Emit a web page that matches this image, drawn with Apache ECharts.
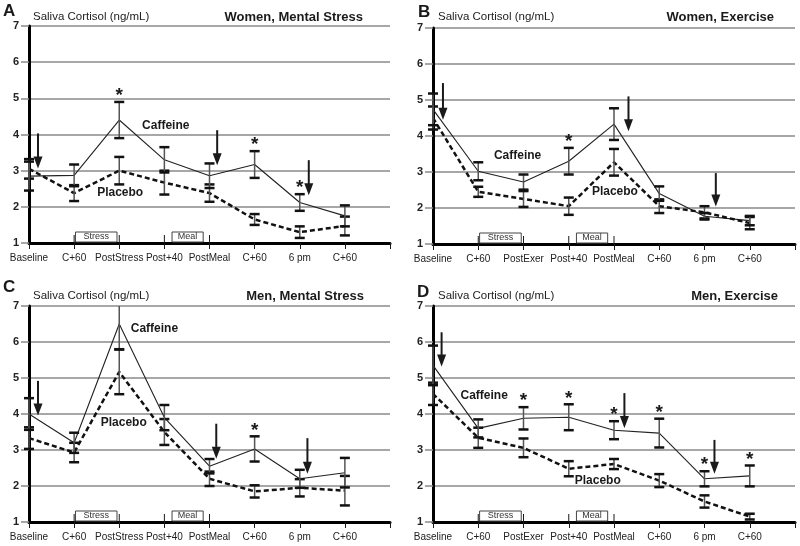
<!DOCTYPE html>
<html>
<head>
<meta charset="utf-8">
<script src="https://cdn.jsdelivr.net/npm/echarts@6/dist/echarts.min.js"></script>
<style>
  html, body { margin: 0; padding: 0; background: #fff; }
  #main { width: 800px; height: 546px; }
</style>
</head>
<body>
<div id="main"></div>
<script>
// x-axis step names
const stepsStress = ['Baseline', 'C+60', 'PostStress', 'Post+40', 'PostMeal', 'C+60', '6 pm', 'C+60'];
const stepsExer = ['Baseline', 'C+60', 'PostExer', 'Post+40', 'PostMeal', 'C+60', '6 pm', 'C+60'];
const yTicks = [1, 2, 3, 4, 5, 6, 7];

// A - Women, Mental Stress
const cafA = [2.85, 2.87, 4.40, 3.30, 2.86, 3.17, 2.12, 1.75];
const cafErrA = [0.40, 0.30, 0.50, 0.35, 0.34, 0.37, 0.23, 0.29];
const plaA = [3.05, 2.38, 3.00, 2.67, 2.38, 1.65, 1.30, 1.47];
const plaErrA = [0.27, 0.22, 0.38, 0.33, 0.24, 0.15, 0.16, 0.26];
const starsA = [2, 5, 6];
const arrowsA = [[0.2, 4.03, 3.06], [4.17, 4.12, 3.15], [6.2, 3.29, 2.32]];
const labelsA = [[3.03, 4.23], [2.02, 2.38]];

// B - Women, Exercise
const cafB = [4.74, 3.02, 2.72, 3.30, 4.33, 2.40, 1.77, 1.65];
const cafErrB = [0.44, 0.25, 0.21, 0.37, 0.44, 0.20, 0.09, 0.13];
const plaB = [4.50, 2.45, 2.25, 2.05, 3.27, 2.05, 1.88, 1.58];
const plaErrB = [0.32, 0.14, 0.22, 0.24, 0.37, 0.19, 0.17, 0.17];
const starsB = [3];
const arrowsB = [[0.22, 5.47, 4.45], [4.32, 5.10, 4.13], [6.25, 2.97, 2.04]];
const labelsB = [[1.87, 3.45], [4.02, 2.45]];

// C - Men, Mental Stress
const cafC = [4.00, 3.20, 6.50, 3.90, 2.55, 3.03, 2.20, 2.37];
const cafErrC = [0.44, 0.28, 0.70, 0.35, 0.20, 0.35, 0.25, 0.41];
const plaC = [3.33, 2.93, 5.17, 3.50, 2.20, 1.85, 1.95, 1.87];
const plaErrC = [0.30, 0.27, 0.62, 0.36, 0.20, 0.17, 0.24, 0.41];
const starsC = [5];
const arrowsC = [[0.2, 4.92, 3.96], [4.15, 3.73, 2.76], [6.17, 3.33, 2.34]];
const labelsC = [[2.78, 6.36], [2.10, 3.75]];

// D - Men, Exercise
const cafD = [5.35, 3.60, 3.88, 3.91, 3.55, 3.47, 2.20, 2.28];
const cafErrD = [0.55, 0.25, 0.31, 0.36, 0.25, 0.40, 0.21, 0.29];
const plaD = [4.56, 3.34, 3.06, 2.48, 2.61, 2.15, 1.57, 1.15];
const plaErrD = [0.31, 0.28, 0.26, 0.21, 0.14, 0.18, 0.17, 0.08];
const starsD = [2, 3, 4, 5, 6, 7];
const arrowsD = [[0.19, 6.27, 5.32], [4.23, 4.58, 3.61], [6.22, 3.28, 2.34]];
const labelsD = [[1.13, 4.50], [3.64, 2.15]];

const lineNames = ['Caffeine', 'Placebo'];
const boxNames = ['Stress', 'Meal'];
const boxSpans = [[1.03, 1.95], [3.17, 3.86]];
const upTicks = [1, 2, 3, 4];

const FONT = '"Liberation Sans", Arial, sans-serif';
const INK = '#1a1a1a';

const panels = [
  { letter: 'A', title: 'Women, Mental Stress', steps: stepsStress, caf: cafA, cafErr: cafErrA, pla: plaA, plaErr: plaErrA, stars: starsA, arrows: arrowsA, labels: labelsA,
    grid: { left: 29, top: 26, width: 361, height: 217 }, letterPos: [3, 3], ylabPos: [33, 11], titleRight: 437, titleTop: 11 },
  { letter: 'B', title: 'Women, Exercise', steps: stepsExer, caf: cafB, cafErr: cafErrB, pla: plaB, plaErr: plaErrB, stars: starsB, arrows: arrowsB, labels: labelsB,
    grid: { left: 433, top: 28, width: 362, height: 216 }, letterPos: [418, 4], ylabPos: [438, 11], titleRight: 26, titleTop: 11 },
  { letter: 'C', title: 'Men, Mental Stress', steps: stepsStress, caf: cafC, cafErr: cafErrC, pla: plaC, plaErr: plaErrC, stars: starsC, arrows: arrowsC, labels: labelsC,
    grid: { left: 29, top: 306, width: 361, height: 216 }, letterPos: [3, 279], ylabPos: [33, 290], titleRight: 436, titleTop: 290 },
  { letter: 'D', title: 'Men, Exercise', steps: stepsExer, caf: cafD, cafErr: cafErrD, pla: plaD, plaErr: plaErrD, stars: starsD, arrows: arrowsD, labels: labelsD,
    grid: { left: 433, top: 306, width: 362, height: 216 }, letterPos: [417, 284], ylabPos: [438, 290], titleRight: 22, titleTop: 290 }
];

function errBar(params, api) {
  const x = api.value(0), m = api.value(1), e = api.value(2);
  const hi = Math.min(m + e, 7), lo = Math.max(m - e, 1);
  const a = api.coord([x, hi]), b = api.coord([x, lo]);
  const cap = p => ({ type: 'line', shape: { x1: p[0] - 5, y1: p[1], x2: p[0] + 5, y2: p[1] }, style: { stroke: '#111', lineWidth: 2.5 } });
  const kids = [{ type: 'line', shape: { x1: a[0], y1: a[1], x2: b[0], y2: b[1] }, style: { stroke: '#555', lineWidth: 1.5 } }];
  if (m + e <= 7) kids.push(cap(a));
  kids.push(cap(b));
  return { type: 'group', children: kids };
}

function starItem(params, api) {
  const p = api.coord([api.value(0), api.value(1)]);
  return { type: 'text', x: p[0], y: p[1] - 6, style: { text: '*', font: 'bold 19px ' + FONT, fill: INK, align: 'center', verticalAlign: 'middle' } };
}

function arrowItem(params, api) {
  const x = api.value(0);
  const a = api.coord([x, api.value(1)]), b = api.coord([x, api.value(2)]);
  return { type: 'group', children: [
    { type: 'line', shape: { x1: a[0], y1: a[1], x2: b[0], y2: b[1] - 10 }, style: { stroke: INK, lineWidth: 2 } },
    { type: 'polygon', shape: { points: [[b[0] - 4.5, b[1] - 12], [b[0] + 4.5, b[1] - 12], [b[0], b[1]]] }, style: { fill: INK } }
  ] };
}

function boxItem(params, api) {
  const a = api.coord([api.value(0), 1]), b = api.coord([api.value(1), 1]);
  return { type: 'group', children: [
    { type: 'rect', shape: { x: a[0], y: a[1] - 11, width: b[0] - a[0], height: 10 }, style: { fill: '#fff', stroke: '#444', lineWidth: 1 } },
    { type: 'text', x: (a[0] + b[0]) / 2, y: a[1] - 6, style: { text: boxNames[params.dataIndex], font: '9px ' + FONT, fill: '#333', align: 'center', verticalAlign: 'middle' } }
  ] };
}

function upTickItem(params, api) {
  const p = api.coord([api.value(0), 1]);
  return { type: 'line', shape: { x1: p[0], y1: p[1] - 8, x2: p[0], y2: p[1] }, style: { stroke: INK, lineWidth: 1 } };
}

function nameItem(params, api) {
  const p = api.coord([api.value(0), api.value(1)]);
  return { type: 'text', x: p[0], y: p[1], style: { text: lineNames[params.dataIndex], font: 'bold 12px ' + FONT, fill: INK, align: 'center', verticalAlign: 'middle' } };
}

const option = { animation: false, grid: [], xAxis: [], yAxis: [], title: [], series: [] };

panels.forEach((pn, i) => {
  option.grid.push(pn.grid);
  option.title.push(
    { text: pn.letter, left: pn.letterPos[0], top: pn.letterPos[1], padding: 0, textStyle: { fontFamily: FONT, fontSize: 17, fontWeight: 'bold', color: INK } },
    { text: 'Saliva Cortisol (ng/mL)', left: pn.ylabPos[0], top: pn.ylabPos[1], padding: 0, textStyle: { fontFamily: FONT, fontSize: 11.5, fontWeight: 'normal', color: '#222' } },
    { text: pn.title, right: pn.titleRight, top: pn.titleTop, padding: 0, textStyle: { fontFamily: FONT, fontSize: 13, fontWeight: 'bold', color: INK } }
  );
  option.xAxis.push({
    type: 'value', gridIndex: i, min: 0, max: 8, interval: 1,
    axisLine: { onZero: false, lineStyle: { color: '#000', width: 3 } },
    axisTick: { length: 6, lineStyle: { color: INK, width: 1 } },
    splitLine: { show: false },
    axisLabel: { margin: 10, fontFamily: FONT, fontSize: 10, color: '#222', showMaxLabel: true,
      formatter: v => pn.steps[v] || '' }
  });
  option.yAxis.push({
    type: 'value', gridIndex: i, min: yTicks[0], max: yTicks[yTicks.length - 1], interval: 1,
    axisLine: { show: true, onZero: false, lineStyle: { color: '#000', width: 3 } },
    axisTick: { show: true, length: 8, lineStyle: { color: '#8a8a8a', width: 1.5 } },
    splitLine: { lineStyle: { color: '#8a8a8a', width: 1.5 } },
    axisLabel: { margin: 10, fontFamily: FONT, fontSize: 11, fontWeight: 'bold', color: '#222' }
  });
  const ax = { xAxisIndex: i, yAxisIndex: i, silent: true };
  option.series.push(
    Object.assign({ type: 'line', name: 'Caffeine', data: pn.caf.map((v, k) => [k, v]), showSymbol: false,
      lineStyle: { color: '#222', width: 1.1 }, z: 3 }, ax),
    Object.assign({ type: 'line', name: 'Placebo', data: pn.pla.map((v, k) => [k, v]), showSymbol: false,
      lineStyle: { color: '#111', width: 2.5, type: [5, 3] }, z: 3 }, ax),
    Object.assign({ type: 'custom', renderItem: errBar, data: pn.pla.map((v, k) => [k, v, pn.plaErr[k]]), z: 4 }, ax),
    Object.assign({ type: 'custom', renderItem: errBar, data: pn.caf.map((v, k) => [k, v, pn.cafErr[k]]), z: 4 }, ax),
    Object.assign({ type: 'custom', renderItem: starItem, data: pn.stars.map(k => [k, pn.caf[k] + pn.cafErr[k]]), z: 5 }, ax),
    Object.assign({ type: 'custom', renderItem: arrowItem, data: pn.arrows, z: 5 }, ax),
    Object.assign({ type: 'custom', renderItem: boxItem, data: boxSpans, z: 5 }, ax),
    Object.assign({ type: 'custom', renderItem: upTickItem, data: upTicks.map(t => [t, 1]), z: 5 }, ax),
    Object.assign({ type: 'custom', renderItem: nameItem, data: pn.labels, z: 5 }, ax)
  );
});

const chart = echarts.init(document.getElementById('main'), null, { renderer: 'canvas' });
chart.setOption(option);
</script>
</body>
</html>
